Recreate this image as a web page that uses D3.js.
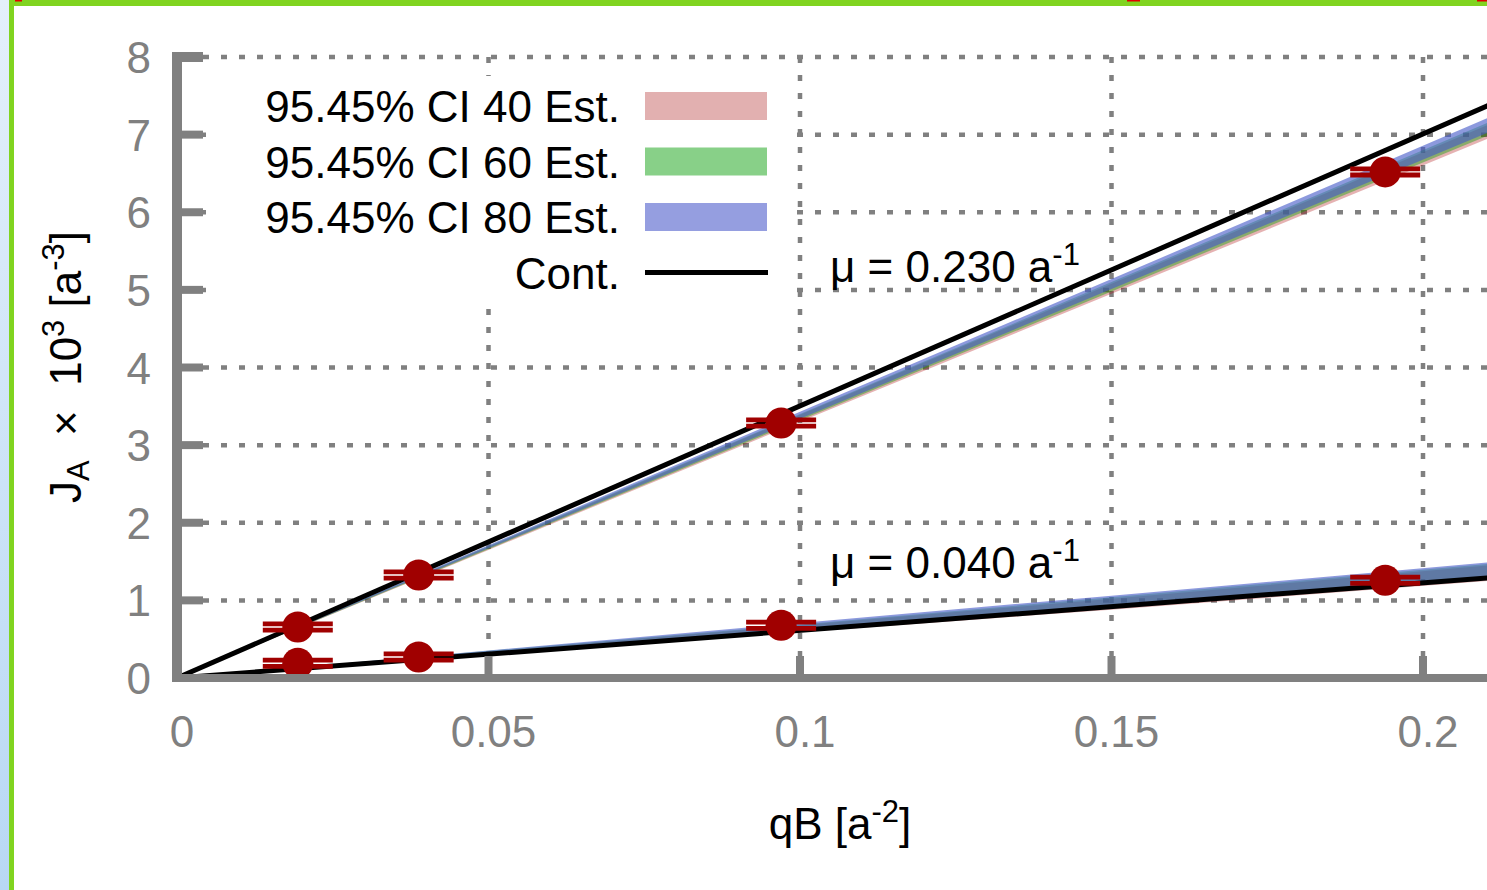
<!DOCTYPE html>
<html>
<head>
<meta charset="utf-8">
<script src="https://cdn.jsdelivr.net/npm/d3@7"></script>
<style>
    html, body { margin: 0; padding: 0; background: #fff; overflow: hidden; }
    #frame { position: relative; width: 1487px; height: 890px; }
    #strip { position: absolute; left: 0; top: 0; width: 9px; height: 890px;
             background: linear-gradient(#e4f0fb, #b8d8f4); }
    #chart { position: absolute; left: 0; top: 0; }
    text { font-family: "Liberation Sans", Arial, sans-serif; }
</style>
</head>
<body>
<div id="frame">
    <div id="strip"></div>
    <div id="chart"></div>
</div>
<script>
// measured points (qB in a^-2, J_A x 10^3 in a^-3)
const qB = [0.01939, 0.03879, 0.09697, 0.19393];
const jMu230 = [0.657, 1.327, 3.286, 6.52];
const jMu040 = [0.19, 0.27, 0.68, 1.26];
const jErr = [0.04, 0.04, 0.04, 0.04];

// continuum lines
const contQB = [0, 0.212];
const contMu230 = [0, 7.43];
const contMu040 = [0, 1.30];

// confidence bands
const bandQB = [0, 0.05, 0.1, 0.15, 0.212];
const ci40Mu230Lo = [0, 1.65, 3.30, 4.95, 7.00];
const ci40Mu230Hi = [0, 1.69, 3.39, 5.08, 7.18];
const ci60Mu230Lo = [0, 1.66, 3.32, 4.98, 7.04];
const ci60Mu230Hi = [0, 1.70, 3.40, 5.10, 7.21];
const ci80Mu230Lo = [0, 1.67, 3.34, 5.01, 7.08];
const ci80Mu230Hi = [0, 1.71, 3.43, 5.14, 7.27];
const ci40Mu040Lo = [0, 0.29, 0.59, 0.88, 1.26];
const ci40Mu040Hi = [0, 0.34, 0.68, 1.02, 1.46];
const ci60Mu040Lo = [0, 0.30, 0.61, 0.91, 1.29];
const ci60Mu040Hi = [0, 0.35, 0.69, 1.04, 1.48];
const ci80Mu040Lo = [0, 0.31, 0.62, 0.92, 1.31];
const ci80Mu040Hi = [0, 0.355, 0.71, 1.06, 1.50];

const xTicks = [0, 0.05, 0.1, 0.15, 0.2];
const xTickLabels = ["0", "0.05", "0.1", "0.15", "0.2"];
const yTicks = [0, 1, 2, 3, 4, 5, 6, 7, 8];
const legendLabels = ["95.45% CI 40 Est.", "95.45% CI 60 Est.", "95.45% CI 80 Est.", "Cont."];

const W = 1487, H = 890;
const grey = "#808080";
const red = "#a00000";
const fs = 44;
const bandColors = ["rgba(170,0,0,0.30)", "rgba(0,160,0,0.40)", "rgba(70,90,200,0.62)"];
const legendColors = ["#e2b0b0", "#88d088", "#959ee0"];

const svg = d3.select("#chart").append("svg")
    .attr("width", W)
    .attr("height", H);

// window frame
svg.append("rect").attr("x", 9).attr("y", 0).attr("width", W).attr("height", 6).attr("fill", "#80d420");
svg.append("rect").attr("x", 9).attr("y", 0).attr("width", 5).attr("height", H).attr("fill", "#80d420");
svg.append("rect").attr("x", 15).attr("y", 0).attr("width", 7).attr("height", 1.5).attr("fill", "#e00000");
svg.append("rect").attr("x", 1127).attr("y", 0).attr("width", 13).attr("height", 1.5).attr("fill", "#e00000");
svg.append("rect").attr("x", 1477).attr("y", 0).attr("width", 10).attr("height", 1.5).attr("fill", "#e00000");

const x = d3.scaleLinear().domain([0, 0.2]).range([177, 1423]);
const y = d3.scaleLinear().domain([0, 8]).range([678, 57]);

const plot = svg.append("g");

// grid
plot.append("g").selectAll("line")
    .data(yTicks.filter(d => d > 0))
    .join("line")
    .attr("x1", x(0) + 8).attr("x2", W + 20)
    .attr("y1", d => y(d)).attr("y2", d => y(d))
    .attr("stroke", grey).attr("stroke-width", 4.5)
    .attr("stroke-dasharray", "6,12");
plot.append("g").selectAll("line")
    .data(xTicks.filter(d => d > 0))
    .join("line")
    .attr("x1", d => x(d)).attr("x2", d => x(d))
    .attr("y1", y(8)).attr("y2", y(0))
    .attr("stroke", grey).attr("stroke-width", 4.5)
    .attr("stroke-dasharray", "6,12");

// key box (opaque)
plot.append("rect")
    .attr("x", 206).attr("y", 76).attr("width", 584).attr("height", 222)
    .attr("fill", "#fff");

// bands
const area = d3.area()
    .x((d, i) => x(bandQB[i]))
    .y0(d => y(d[0]))
    .y1(d => y(d[1]));
const bands = [
    [ci40Mu230Lo, ci40Mu230Hi, 0], [ci60Mu230Lo, ci60Mu230Hi, 1], [ci80Mu230Lo, ci80Mu230Hi, 2],
    [ci40Mu040Lo, ci40Mu040Hi, 0], [ci60Mu040Lo, ci60Mu040Hi, 1], [ci80Mu040Lo, ci80Mu040Hi, 2]
];
bands.forEach(b => {
    plot.append("path")
        .attr("d", area(b[0].map((v, i) => [v, b[1][i]])))
        .attr("fill", bandColors[b[2]]);
});

// continuum lines
const line = d3.line().x(d => x(d[0])).y(d => y(d[1]));
[contMu230, contMu040].forEach(c => {
    plot.append("path")
        .attr("d", line(contQB.map((q, i) => [q, c[i]])))
        .attr("fill", "none")
        .attr("stroke", "#000")
        .attr("stroke-width", 5);
});

// data points with error bars
[jMu230, jMu040].forEach(js => {
    const g = plot.append("g");
    qB.forEach((q, i) => {
        [js[i] - jErr[i], js[i] + jErr[i]].forEach(v => {
            g.append("line")
                .attr("x1", x(q) - 35).attr("x2", x(q) + 35)
                .attr("y1", y(v)).attr("y2", y(v))
                .attr("stroke", red).attr("stroke-width", 4.8);
        });
        g.append("circle")
            .attr("cx", x(q)).attr("cy", y(js[i]))
            .attr("r", 15.5)
            .attr("fill", red);
    });
});

// border and ticks
const border = svg.append("g");
border.append("line")
    .attr("x1", x(0)).attr("x2", x(0)).attr("y1", y(8) - 5).attr("y2", y(0) + 4)
    .attr("stroke", grey).attr("stroke-width", 10);
border.append("line")
    .attr("x1", x(0) - 5).attr("x2", W + 20).attr("y1", y(0)).attr("y2", y(0))
    .attr("stroke", grey).attr("stroke-width", 8);
border.selectAll(".ytick")
    .data(yTicks.filter(d => d > 0))
    .join("line")
    .attr("x1", x(0)).attr("x2", x(0) + 26)
    .attr("y1", d => y(d)).attr("y2", d => y(d))
    .attr("stroke", grey).attr("stroke-width", d => d === 8 ? 10 : 8);
border.selectAll(".xtick")
    .data(xTicks.filter(d => d > 0))
    .join("line")
    .attr("x1", d => x(d)).attr("x2", d => x(d))
    .attr("y1", y(0)).attr("y2", y(0) - 22)
    .attr("stroke", grey).attr("stroke-width", 8);

// tick labels
svg.append("g").selectAll("text")
    .data(yTicks)
    .join("text")
    .attr("x", 151).attr("y", d => y(d) + 16)
    .attr("text-anchor", "end")
    .attr("font-size", fs)
    .attr("fill", grey)
    .text(d => d);
svg.append("g").selectAll("text")
    .data(xTicks)
    .join("text")
    .attr("x", d => x(d) + 5).attr("y", 747)
    .attr("text-anchor", "middle")
    .attr("font-size", fs)
    .attr("fill", grey)
    .text((d, i) => xTickLabels[i]);

// axis labels
const xl = svg.append("text")
    .attr("x", 840).attr("y", 839)
    .attr("text-anchor", "middle")
    .attr("font-size", fs);
xl.append("tspan").text("qB [a");
xl.append("tspan").attr("font-size", 31).attr("dy", -17).text("-2");
xl.append("tspan").attr("dy", 17).text("]");

const yl = svg.append("text")
    .attr("transform", "translate(81,367) rotate(-90)")
    .attr("text-anchor", "middle")
    .attr("font-size", fs);
yl.append("tspan").text("J");
yl.append("tspan").attr("font-size", 31).attr("dy", 8).text("A");
yl.append("tspan").attr("dy", -8).text("\u00a0\u00a0\u00d7\u00a0\u00a010");
yl.append("tspan").attr("font-size", 31).attr("dy", -17).text("3");
yl.append("tspan").attr("dy", 17).text(" [a");
yl.append("tspan").attr("font-size", 31).attr("dy", -17).text("-3");
yl.append("tspan").attr("dy", 17).text("]");

// mu labels
const muLabels = ["\u03bc = 0.230 a", "\u03bc = 0.040 a"];
const muY = [282, 578];
muLabels.forEach((m, i) => {
    const t = svg.append("text")
        .attr("x", 830).attr("y", muY[i])
        .attr("font-size", fs);
    t.append("tspan").text(m);
    t.append("tspan").attr("font-size", 31).attr("dy", -17).text("-1");
});

// key
const key = svg.append("g");
legendLabels.forEach((l, i) => {
    const cy = 106 + i * 55.5;
    key.append("text")
        .attr("x", 620).attr("y", cy + 16)
        .attr("text-anchor", "end")
        .attr("font-size", fs)
        .text(l);
    if (i < 3) {
        key.append("rect")
            .attr("x", 645).attr("y", cy - 14)
            .attr("width", 122).attr("height", 28)
            .attr("fill", legendColors[i]);
    } else {
        key.append("line")
            .attr("x1", 645).attr("x2", 768)
            .attr("y1", cy).attr("y2", cy)
            .attr("stroke", "#000").attr("stroke-width", 5);
    }
});
</script>
</body>
</html>
